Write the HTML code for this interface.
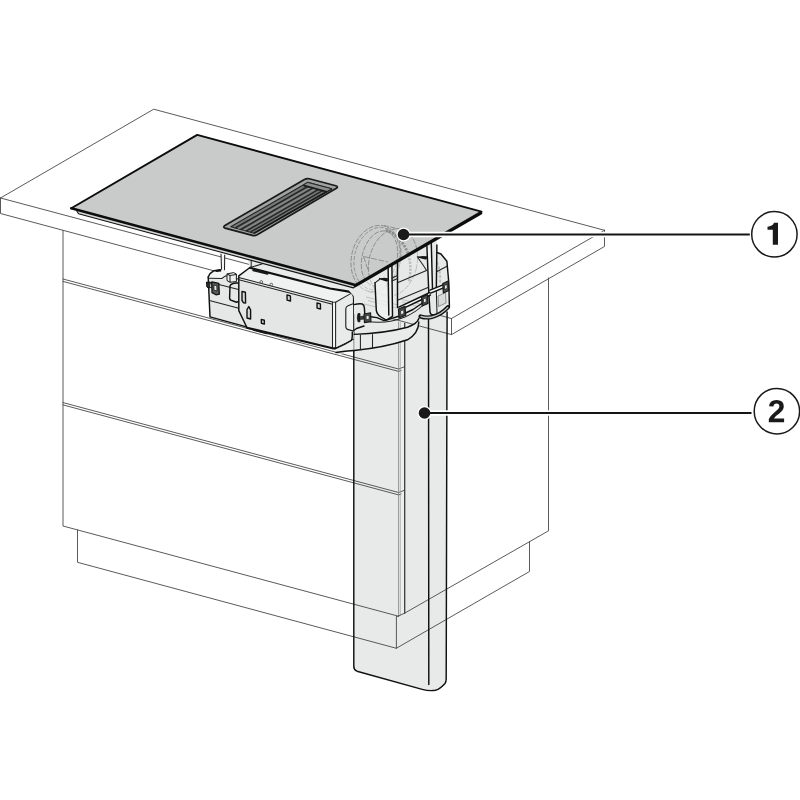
<!DOCTYPE html>
<html>
<head>
<meta charset="utf-8">
<title>Installation diagram</title>
<style>
html,body{margin:0;padding:0;background:#fff;}
body{width:800px;height:800px;overflow:hidden;font-family:"Liberation Sans",sans-serif;}
svg{display:block;}
.t{fill:none;stroke:#474747;stroke-width:0.9;stroke-linecap:round;stroke-linejoin:round;}
.k{fill:none;stroke:#101010;stroke-width:1.45;stroke-linecap:round;stroke-linejoin:round;}
.kk{fill:none;stroke:#101010;stroke-width:2.2;stroke-linecap:round;stroke-linejoin:round;}
.m{fill:none;stroke:#222;stroke-width:1.05;stroke-linecap:round;stroke-linejoin:round;}
.g{fill:none;stroke:#8e9090;stroke-width:0.8;stroke-linecap:round;stroke-linejoin:round;}
.num{font-family:"Liberation Sans",sans-serif;font-weight:bold;font-size:30.5px;fill:#1a1a1a;text-anchor:middle;}
</style>
</head>
<body>
<svg width="800" height="800" viewBox="0 0 800 800">
<rect width="800" height="800" fill="#fff"/>

<!-- ===== DUCT (behind cabinet lines) ===== -->
<g id="duct">
<path d="M353.8 330 L353.8 666.5 Q353.8 669.8 357 671.2 L422.2 689.4 Q429 691.2 435.3 690.3 Q439.5 689.5 445 683.5 Q446.2 682 446.2 679 L447.1 300 L353.8 300 Z" fill="#e8eaea"/>
</g>

<path d="M398.6 322 L404.6 323.5 L404.6 613.2 L398.6 616.2 Z" fill="#edefef"/>
<!-- ===== COUNTERTOP + CABINET thin lines ===== -->
<g id="cabinet" class="t">
<!-- countertop top face -->
<path d="M0.5 198 L153.7 109.2 L604.5 230.3"/>
<path d="M0.5 198 L451.5 318.5"/>
<path d="M451.5 318.5 L604.5 230.3"/>
<!-- countertop front faces -->
<path d="M0.5 198 L0.5 213.5 L451.5 334.6 L604.5 246.5 L604.5 230.3"/>
<path d="M451.5 318.5 L451.5 334.6"/>
<!-- cabinet front -->
<path d="M63 230.5 L63 526 L398.8 616.3"/>
<path d="M63 279 L398.6 369 L404.6 366.7"/>
<path d="M63 281.4 L398.6 371.4 L401 370.5"/>
<path d="M63 402.6 L398.6 492.5 L404.6 490.2"/>
<path d="M63 404.9 L398.6 494.9 L401 494"/>
<path d="M398.6 322 L398.6 616.2" stroke="#7c7e7e" stroke-width="0.8"/>
<path d="M400.3 322.5 L400.3 615.4" stroke="#9a9c9c" stroke-width="0.7"/>
<path d="M404.7 323.5 L404.7 613.1" stroke="#3c3c3c" stroke-width="1.3"/>
<!-- plinth front -->
<path d="M77.5 530 L77.5 562.3 L396.4 648.3 L396.4 616.8"/>
<!-- cabinet side -->
<path d="M404.8 613.1 L548.5 530.8 L548.5 278"/>
<path d="M396.5 616.8 L404.8 613.1"/>
<!-- plinth side -->
<path d="M396.3 648.3 L529.5 571.5 L529.5 541.8"/>
</g>

<!-- ===== Duct outline ===== -->
<g id="ductline">
<path class="k" stroke-width="1.8" d="M353.8 332 L353.8 666.5 Q353.8 669.8 357 671.2 L422.2 689.4 Q429 691.2 435.3 690.3 Q439.5 689.5 445 683.5 Q446.2 682 446.2 679 L447.1 312"/>
<path class="k" d="M428.5 318 L428.8 684.5" stroke-width="1.1"/>
</g>

<!-- ===== MOTOR BOX ===== -->
<g id="box">
<!-- glass support post left -->
<path d="M221 255 L221.8 278.5 L224.6 278.5 L224.6 256 Z" fill="#f2f3f3"/>
<path class="m" d="M221 254 L221.8 278 M224.7 255 L224.4 278"/>
<!-- left bracket -->
<path d="M208.2 277 L210 273.6 L214 270.7 L222 269.6 L238.8 275.6 L238.8 310.6 L246.5 326.9 L210 316.9 Z" fill="#e6e8e8"/>
<path d="M208.8 278 L222 278.3 L226 275.7 L238.8 279 L238.8 275.6 L222 269.6 L214 270.7 L210 273.6 Z" fill="#f3f4f4"/>
<path class="k" d="M208.2 277 L210 273.6 L214 270.7 L220.8 269.8"/>
<path class="k" d="M208.2 277 L210 316.9 L246.5 326.9"/>
<path class="m" d="M209.4 300.6 L238.8 308.2"/>
<path class="m" d="M208.8 278.3 L221.8 278.5 L225.5 275.8 L238 279"/>
<path class="m" d="M209 282 L238.5 289.5"/>
<path d="M214.5 270.2 L220.8 269.2 L221.2 271.6 L216 272 Z" fill="#101010"/>
<!-- clip on bracket -->
<path d="M206.6 282 Q206.2 284.5 207 287.2 L209.8 288 L209.8 282.6 Z" fill="#2a2a2a" stroke="#101010" stroke-width="1" stroke-linejoin="round"/>
<path d="M209.8 283.5 L212 284 L212 287.8 L209.8 287.4 Z" fill="#f0f1f1" stroke="#101010" stroke-width="0.8"/>
<path d="M211.8 281.8 L218.8 283.4 L219.3 294.2 L216 294.8 L212 292.6 Z" fill="#5a5c5c" stroke="#101010" stroke-width="1.3" stroke-linejoin="round"/>
<path d="M213.8 285 L216.8 285.7 L217 291 L214 290.2 Z" fill="#e4e6e6" stroke="#101010" stroke-width="0.8"/>
<!-- small component -->
<path d="M227 274 L233.5 272.6 L236.4 274 L236.4 281.6 L230 282.2 L227 280.6 Z" fill="#eef0f0" stroke="#1a1a1a" stroke-width="1" stroke-linejoin="round"/>
<path class="m" d="M230 275.5 L230 282 M230 275.5 L236.2 274.4 M227 274 L230 275.5"/>
<!-- cable loop -->
<path class="k" d="M238.6 283 Q231 282.5 230 286 L229.6 298 Q229.8 300.5 232.5 300.8 L236.5 302.2 L238.6 301.5" />
<path d="M246 256 L356 286 L354 298 L250 268 Z" fill="#e9ebeb"/>
<!-- main box top face -->
<path d="M238.8 275.8 L250 267.5 L348.8 290.6 Q353 291.5 353.7 296 L335.6 302.2 L332.5 301.9 L238.8 277.6 Z" fill="#f0f1f1"/>
<!-- main box front face -->
<path d="M238.8 277.5 L332.5 301.9 L332.5 348.1 L246.9 327.5 L238.8 310.6 Z" fill="#e4e6e6"/>
<!-- right face -->
<path d="M332.5 301.9 L335.6 302.2 L351.3 293.3 L353.7 296 L353.7 339.5 L335.6 348.3 L332.5 348.1 Z" fill="#e9ebeb"/>
<path d="M332.5 301.9 L335.6 302.2 L335.6 348.3 L332.5 348.1 Z" fill="#f6f7f7"/>
<!-- outlines -->
<path class="k" d="M250 267.5 L238.8 275.8 L238.8 310.6 L246.9 327.5"/>
<path class="kk" d="M246.9 327.7 L332.5 348.3 L335.6 348.3"/>
<path class="k" d="M335.6 348.3 L347 343 L353.5 339.5"/>
<path class="kk" d="M250 267.8 L330 288.5 L347.5 291.3 Q353.4 292.2 354 297 L354 303"/>
<path class="m" d="M238.8 277.6 L332.5 301.9 L335.6 302.2 L351 293.4"/>
<path class="m" d="M238.8 279.8 L331.5 304"/>
<path class="m" d="M332.5 301.9 L332.5 348 M335.6 302.2 L335.6 348"/>
<!-- features on front -->
<g fill="#d8dada" stroke="#101010" stroke-width="1.4" stroke-linejoin="round">
<path d="M242 291.4 L245.4 292.3 L245.6 303 L243.6 302.8 L242 300.5 Z"/>
<path d="M247 309.5 L248.8 306.6 L250.6 309.8 L250.6 319 L247 318 Z"/>
<path d="M261.3 319.4 L264.3 320.2 L264.4 324 L261.4 323.2 Z"/>
<path d="M287 295 L290.4 295.9 L290.5 301 L287.1 300.1 Z"/>
<path d="M317 303 L320.4 303.9 L320.5 309 L317.1 308.1 Z"/>
</g>
<circle cx="261.3" cy="281.9" r="1.3" fill="#f4f4f4" stroke="#2a2a2a" stroke-width="0.7"/>
<circle cx="271.3" cy="284.5" r="1.3" fill="#f4f4f4" stroke="#2a2a2a" stroke-width="0.7"/>
<path d="M253.2 270.2 L267.5 273.7" stroke="#1a1a1a" stroke-width="2" fill="none" stroke-linecap="round"/>
<path d="M254 330.3 L266.8 333.5" stroke="#1a1a1a" stroke-width="1.6" fill="none" stroke-linecap="round"/>
<path class="m" d="M251.2 254 L251.2 267.5"/>
<path class="m" d="M250 267.5 L262 264"/>
<!-- side bump on right face -->
<path d="M345.8 309 Q345.8 306.6 348 305.8 L353.7 303.5 L353.7 331 L348.2 329.6 Q345.8 329 345.8 326.5 Z" fill="#eef0f0" stroke="#1a1a1a" stroke-width="1.1" stroke-linejoin="round"/>
</g>

<!-- ===== HOUSING / ADAPTER ===== -->
<g id="housing">
<!-- flange plate under box -->
<path d="M336 348.3 L353.7 339.5 L353.7 350.5 Q347 351.5 340 354 L336 352 Z" fill="#eceeee"/>
<!-- collar -->
<path d="M354.3 334.2 Q385 333.2 407.5 327.2 Q418 323.5 418.8 318 L418.8 327 Q418 334 407.5 339.8 Q385 347.5 354.3 350.5 Z" fill="#e9ebeb"/>
<path class="k" d="M354.3 334.4 Q385 333.2 407.5 327.2 Q417.5 323.5 418.8 318.5"/>
<path class="k" d="M354.3 350.5 Q385 347.5 407.5 339.8 Q418.5 333.5 418.8 322"/>
<path class="m" d="M360.4 335 L360.4 349.8 M372.5 334.5 L372.5 348.3"/>
<path class="k" d="M336 352.5 Q345 351 353.7 350.5"/>
<!-- housing body fill -->
<path d="M353.7 296 L348.8 290.4 L356 284.5 L437 238 L437 252.5 L441 254 L447 261.3 L449.4 306 Q447 310.5 440 313 Q430 317 422 318.5 L419 316 Q410 321 398 318 L386.3 320.5 L377 317.5 L364 315.5 L354 314 L354 300 Z" fill="#e7e9e9"/>
<!-- dashed fan lines visible inside -->
<clipPath id="hk"><path d="M356 284.5 L437 238 L449.4 262 L449.4 306 L430 316 L398 318 L376 312 L356 300 Z"/></clipPath>
<g clip-path="url(#hk)"><g fill="none" stroke-linecap="butt" stroke="#b4b7b7">
<ellipse cx="376" cy="258.5" rx="24.5" ry="33.5" transform="rotate(13 376 258.5)" stroke-width="0.8" stroke-dasharray="5 1.4"/>
<ellipse cx="377" cy="258.5" rx="22.5" ry="31.5" transform="rotate(13 377 258.5)" stroke-width="0.7" stroke-dasharray="4 1.6"/>
<ellipse cx="379.5" cy="258.5" rx="17.5" ry="28" transform="rotate(13 379.5 258.5)" stroke-width="0.8" stroke-dasharray="5 1.4"/>
<ellipse cx="393" cy="262.5" rx="24" ry="34" transform="rotate(13 393 262.5)" stroke-width="0.8" stroke-dasharray="5 1.4"/>
<path d="M363.5 256.5 L388 262 M363.5 256.5 L368 270" stroke-width="0.8" stroke-dasharray="6 1.6"/>
<path d="M384 225.5 L401 229.5 M368 291.5 L385 295.5" stroke-width="0.8" stroke-dasharray="5 1.4"/>
<path d="M385.5 230 Q400 235 407.5 252 Q412.5 266 409 282" stroke-width="2.6" stroke-dasharray="2.2 1.3" opacity="0.85"/>
</g></g>
<g fill="none" stroke="#b9bcbc" stroke-width="0.9">
<path d="M366 297 L398 305 M368 300.5 L397 308 M364 304 L376 307"/>
<path d="M400 299 L420 304 M402 302 L418 306.5"/>
<path d="M437 262 Q441 272 440 284" stroke-width="2" stroke-dasharray="3 1.5"/>
</g>
<!-- inner shelf lines -->
<path class="m" d="M398 282.5 L426.5 270.5 M398 300 L428 287.5"/>
<path class="m" d="M437 271.5 L447.5 266"/>
<!-- left panel -->
<path d="M375 282.5 L386.3 280.6 L388.5 315 L386.3 320.2 L376.3 310.5 Z" fill="#eef0f0" opacity="0.85"/>
<path class="m" d="M375 282.8 L380 279"/>
<path class="k" d="M375 282.8 L376.3 310.3 Q377 314.5 381 317 L386.3 320.2 L392.5 316.3"/>
<!-- left post -->
<path d="M388.1 268.5 L391.9 268 L392.5 316.3 L388.8 315 Z" fill="#f4f5f5"/>
<path class="k" d="M388.1 266 L388.8 315"/>
<path class="k" d="M391.9 264.5 L392.5 316.3"/>
<path class="k" d="M397.5 262 L397.5 307.5"/>
<path class="m" d="M392 278 L397.5 275.5 M392 281 L397.5 278.5"/>
<path class="k" d="M379.8 278.6 L386.5 280.8 L388.3 279.5"/>
<path d="M379.8 278.6 L384 277.7 L388.2 278.2 L386.5 280.8 Z" fill="#1a1a1a"/>
<!-- right post -->
<path d="M426.9 250 L431.3 247.5 L432.5 290 L428.8 292.5 Z" fill="#f4f5f5"/>
<path class="k" d="M426.9 246 L428.8 292.5"/>
<path class="k" d="M431.3 243.5 L432.5 290"/>
<path class="k" d="M436.9 245 L436.3 291"/>
<path class="k" d="M417.5 256.9 L425.6 258.8 L427.2 257"/>
<path d="M417.5 256.9 L422 255.9 L427 256.3 L425.6 258.8 Z" fill="#1a1a1a"/>
<path class="m" d="M418 258 Q424 266 426.5 270.5"/>
<!-- housing right outline -->
<path class="k" d="M436.9 252.5 L441 254 L446.9 261.3 L448.8 282.5 L449.4 306.5"/>
<!-- right lower panel -->
<path class="k" d="M428.8 292.5 L430 312 Q430.5 315.5 434 315"/>
<path class="m" d="M436.3 291 L437 313"/>
<path d="M438 296 L445.5 292.5 L446 303 L438.5 306.5 Z" fill="#d9dbdb" stroke="#6a6c6c" stroke-width="0.7"/>
<!-- rails -->
<path d="M398.8 307.2 L422.5 296 L430 292.3 L430.6 294.8 L423 298.8 L399.6 310 Z" fill="#f6f7f7"/>
<path class="k" d="M398.8 307.2 L422.5 296 L430 292.3"/>
<path class="k" d="M399.6 310.2 L423 299 L430.4 295"/>
<path d="M430 290 L443 284.8 L443.6 287.6 L430.6 293 Z" fill="#f6f7f7"/>
<path class="k" d="M430 290.2 L443 284.8 M430.6 293.2 L443.6 287.8"/>
<!-- clips -->
<g fill="#4a4c4c" stroke="#1a1a1a" stroke-width="1.3" stroke-linejoin="round">
<path d="M398.5 309 L405 306.3 L405.6 315.2 L399 318 Z"/>
<path d="M421.6 297.2 L427.4 294.5 L428 303.4 L422.2 306 Z"/>
<path d="M442.8 283.5 L448.2 281 L448.8 290.5 L443.4 293 Z"/>
</g>
<g fill="#e9ebeb" stroke="#1a1a1a" stroke-width="0.7">
<path d="M400.5 311 L403.6 309.7 L403.9 313.6 L400.8 314.9 Z"/>
<path d="M423.3 299 L426 297.8 L426.3 301.7 L423.6 302.9 Z"/>
<path d="M444.4 285.6 L447 284.4 L447.3 288.3 L444.7 289.5 Z"/>
</g>
<!-- lower flange (left run) -->
<path class="k" d="M370.5 316.8 L377 317.6 L384 320.6 L389 319.4 L398.5 316.2" stroke-width="1.8"/>
<path class="k" d="M405.6 313 L413 309.5 L421.8 303.5" stroke-width="1.8"/>
<path class="m" d="M365 321 Q385 325 405 317 Q416 312 422 306"/>
<!-- gasket right -->
<path d="M420.5 316.4 Q426 318.2 432 317 Q441 314.8 448 307.2" fill="none" stroke="#101010" stroke-width="4.2" stroke-linecap="round"/>
<path d="M421 316.5 Q426 318.2 432 317 Q441 314.8 447.8 307.4" fill="none" stroke="#c4c7c6" stroke-width="1.4" stroke-linecap="round"/>
<!-- hose & left clip -->
<path class="k" d="M353.7 304.6 Q360 303.2 362.3 304 Q364.3 305 364.4 308 L364.8 314"/>
<path class="k" d="M353.7 330.5 L356.5 328.5 L364 326"/>
<path d="M358 313.5 Q356.5 317.5 358 321.8 L360 321.8 L360 313.5 Z" fill="#1a1a1a" stroke="#1a1a1a" stroke-width="0.8" stroke-linejoin="round"/>
<path d="M360 316.2 L364 315.4 L364 319.5 L360 320 Z" fill="#3a3a3a"/>
<path d="M364 314 L370.6 312.8 L371 321.6 L364.4 322.6 Z" fill="#4a4c4c" stroke="#1a1a1a" stroke-width="1.1" stroke-linejoin="round"/>
<path d="M366 315.8 L369 315.3 L369.2 319.2 L366.2 319.7 Z" fill="#eceeee" stroke="#1a1a1a" stroke-width="0.7"/>
<!-- box right-side bottom edge -->
<path class="k" d="M336 348.3 Q346 344 351.3 340.5 Q352.5 339 352.3 332"/>
</g>

<!-- ===== COOKTOP ===== -->
<g id="cooktop">
<!-- under-frame band -->
<path d="M78.5 214 L353.5 288 L357 285 L75 207.5 Z" fill="#d4d6d6"/>
<path d="M76.5 210.5 L78.5 213.8 L353.5 287.9 L355.3 286" stroke="#151515" stroke-width="1.1" fill="none" stroke-linecap="round" stroke-linejoin="round"/>
<path d="M71.3 208.2 L197.2 134.9 L481.5 211.7 L355.5 284.7 Z" fill="#c8cbc9"/>
<!-- hidden fan (dashed) -->
<clipPath id="ck"><path d="M71.3 208 L197.2 134.5 L481.5 211.5 L355.5 284.7 Z"/></clipPath>
<g clip-path="url(#ck)"><g fill="none" stroke-linecap="butt" stroke="#808383">
<ellipse cx="376" cy="258.5" rx="24.5" ry="33.5" transform="rotate(13 376 258.5)" stroke-width="0.8" stroke-dasharray="5 1.4"/>
<ellipse cx="377" cy="258.5" rx="22.5" ry="31.5" transform="rotate(13 377 258.5)" stroke-width="0.7" stroke-dasharray="4 1.6"/>
<ellipse cx="379.5" cy="258.5" rx="17.5" ry="28" transform="rotate(13 379.5 258.5)" stroke-width="0.8" stroke-dasharray="5 1.4"/>
<ellipse cx="393" cy="262.5" rx="24" ry="34" transform="rotate(13 393 262.5)" stroke-width="0.8" stroke-dasharray="5 1.4"/>
<path d="M363.5 256.5 L388 262 M363.5 256.5 L368 270" stroke-width="0.8" stroke-dasharray="6 1.6"/>
<path d="M384 225.5 L401 229.5 M368 291.5 L385 295.5" stroke-width="0.8" stroke-dasharray="5 1.4"/>
<path d="M385.5 230 Q400 235 407.5 252 Q412.5 266 409 282" stroke-width="2.6" stroke-dasharray="2.2 1.3" opacity="0.85"/>
</g></g>
<!-- edges -->
<path d="M71.3 208.2 L197.2 134.9 L481.5 211.7" fill="none" stroke="#0d0d0d" stroke-width="1.9" stroke-linejoin="round" stroke-linecap="round"/>
<path d="M71.3 208.2 L355.3 285" fill="none" stroke="#0d0d0d" stroke-width="2.5" stroke-linecap="round"/>
<path d="M355.3 285.6 L480.6 213" fill="none" stroke="#0d0d0d" stroke-width="3.3" stroke-linecap="round"/>
<!-- vent -->
<path d="M225.3 225.3 L304.4 179.4 Q306.8 178.1 309.3 178.8 L335.8 185.8 Q339 186.8 336 188.6 L257.2 234.8 Q254.8 236.1 252.3 235.4 L225 228.1 Q222.3 227.2 225.3 225.3 Z" fill="#a0a3a2" stroke="#1a1a1a" stroke-width="1.7" stroke-linejoin="round"/>
<path d="M230.8 226.7 L307.6 182.4 L331.8 188.8 L254 233.3 Z" fill="#767878" stroke="#222" stroke-width="1.1" stroke-linejoin="round"/>
<path d="M254 233.3 L331.8 188.8" stroke="#1a1a1a" stroke-width="1.8" fill="none"/>
<g fill="none" stroke="#262626" stroke-width="1.5">
<path d="M235.3 228 L312 184"/>
<path d="M240.8 229.5 L317.5 185.4"/>
<path d="M246.2 231 L323 186.8"/>
<path d="M250.3 232.2 L327.4 187.9"/>
</g>
<g fill="none" stroke="#8f9291" stroke-width="0.8">
<path d="M238 228.8 L314.8 184.7"/>
<path d="M243.6 230.3 L320.2 186.2"/>
</g>
<path d="M307.6 182.4 L331.8 188.8 L326 192.1 L302.5 185.5 Z" fill="#8b8d8d" stroke="#222" stroke-width="0.9"/>
<path d="M303.5 185.3 L327 191.6" stroke="#1a1a1a" stroke-width="1.4" fill="none"/>
</g>

<!-- ===== LABELS ===== -->
<g id="labels">
<path d="M404 234.5 L749.8 234.5" stroke="#fff" stroke-width="5.4" fill="none"/>
<circle cx="403.5" cy="234.5" r="7.1" fill="#fff"/>
<path d="M404 234.5 L749.8 234.5" stroke="#151515" stroke-width="1.9" fill="none"/>
<circle cx="403.5" cy="234.5" r="5.8" fill="#1a1a1a"/>
<path d="M424.5 413 L751.5 413" stroke="#fff" stroke-width="5.4" fill="none"/>
<circle cx="424.5" cy="413" r="7.1" fill="#fff"/>
<path d="M424.5 413 L751.5 413" stroke="#151515" stroke-width="1.9" fill="none"/>
<circle cx="424.5" cy="413" r="5.8" fill="#1a1a1a"/>
<circle cx="774.4" cy="234.3" r="22.7" fill="#fff" stroke="#1a1a1a" stroke-width="1.5"/>
<circle cx="776.9" cy="411.2" r="22.7" fill="#fff" stroke="#1a1a1a" stroke-width="1.5"/>
<path d="M778 222.8 L778 244.8 L772.8 244.8 L772.8 229.7 L767.5 229.7 L767.5 226.7 Q772.6 226.5 774 222.8 Z" fill="#1a1a1a"/>
<path transform="translate(767.7 422.2) scale(0.01552 -0.01552)" fill="#1a1a1a" d="M71 0V195Q126 316 227.5 431.0Q329 546 483 671Q631 791 690.5 869.0Q750 947 750 1022Q750 1206 565 1206Q475 1206 427.5 1157.5Q380 1109 366 1012L83 1028Q107 1224 229.5 1327.0Q352 1430 563 1430Q791 1430 913.0 1326.0Q1035 1222 1035 1034Q1035 935 996.0 855.0Q957 775 896.0 707.5Q835 640 760.5 581.0Q686 522 616.0 466.0Q546 410 488.5 353.0Q431 296 403 231H1057V0Z"/>
</g>
</svg>
</body>
</html>
